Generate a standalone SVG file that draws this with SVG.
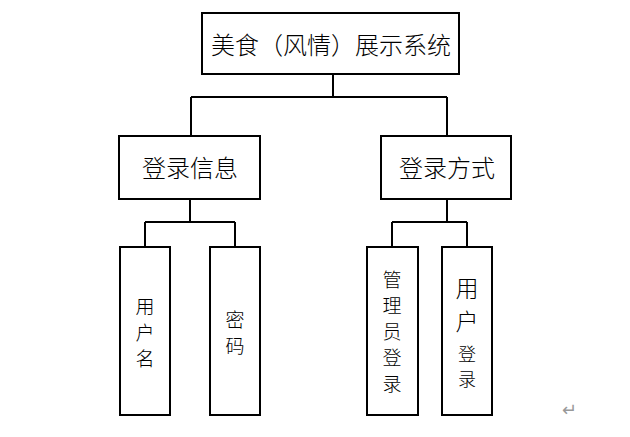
<svg xmlns="http://www.w3.org/2000/svg" width="630" height="437" viewBox="0 0 630 437">
<style>
rect{fill:#fff;stroke:#000;stroke-width:2}
#connectors path{fill:none;stroke:#000;stroke-width:2}
text{font-family:"Noto Sans CJK SC","Noto Sans",sans-serif;fill:#000;text-anchor:middle;dominant-baseline:central;font-weight:300}
.big{font-size:24px}
.mid{font-size:23px}
.leaf{font-size:19px}
.small{font-size:18px}
</style>
<rect x="0" y="0" width="630" height="437" style="stroke:none"/>
<g id="connectors">
<path d="M333 74V97M191 97H447M191 97V136M447 97V136"/>
<path d="M190 199V222M145 222H235M145 222V247M235 222V247"/>
<path d="M447 199V222M392 222H467M392 222V247M467 222V247"/>
</g>
<g id="root"><rect x="202" y="13" width="257" height="61"/><text class="big" x="331" y="43">美食（风情）展示系统</text></g>
<g id="info"><rect x="119" y="136" width="141" height="63"/><text class="big" x="190" y="166">登录信息</text></g>
<g id="method"><rect x="381" y="136" width="130" height="63"/><text class="big" x="447" y="166">登录方式</text></g>
<g id="username"><rect x="120" y="247" width="50" height="168"/>
<text class="leaf" x="145" y="305">用</text><text class="leaf" x="145" y="331">户</text><text class="leaf" x="145" y="357">名</text></g>
<g id="password"><rect x="210" y="247" width="50" height="168"/>
<text class="leaf" x="235" y="318">密</text><text class="leaf" x="235" y="344">码</text></g>
<g id="admin"><rect x="367" y="247" width="51" height="168"/>
<text class="leaf" x="392" y="278">管</text><text class="leaf" x="392" y="304">理</text><text class="leaf" x="392" y="330">员</text><text class="leaf" x="392" y="356">登</text><text class="leaf" x="392" y="382">录</text></g>
<g id="userlogin"><rect x="442" y="247" width="50" height="168"/>
<text class="mid" x="467" y="287">用</text><text class="mid" x="467" y="320">户</text><text class="small" x="467" y="353">登</text><text class="small" x="467" y="378">录</text></g>
<text x="569" y="409" style="font-size:18px;fill:#999;font-family:'DejaVu Sans',sans-serif">↵</text>
</svg>
